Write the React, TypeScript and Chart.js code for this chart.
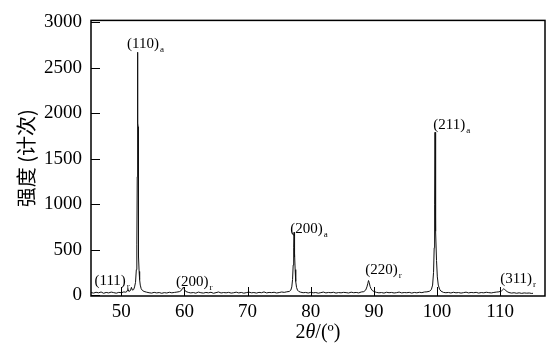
import { useEffect, useRef } from "react";
import { Chart, registerables } from "chart.js";

Chart.register(...registerables);

const angles = [
  45.2, 45.6, 46.0, 46.4, 46.8, 47.2, 47.6, 48.0, 48.4, 48.8, 49.2, 49.6, 50.0, 50.4,
  50.7, 50.9, 51.05, 51.2, 51.45, 51.6, 51.75, 51.95, 52.1, 52.25, 52.38, 52.46, 52.52, 52.56,
  52.59, 52.62, 52.66, 52.7, 52.75, 52.82, 52.9, 53.0, 53.15, 53.35, 53.6,
  54.0, 54.4, 54.8, 55.2, 55.6, 56.0, 56.4, 56.8, 57.2, 57.6, 58.0, 58.4, 58.8, 59.2,
  59.5, 59.7, 59.85, 60.0, 60.2,
  60.6, 61.0, 61.4, 61.8, 62.2, 62.6, 63.0, 63.4, 63.8, 64.2, 64.6, 65.0, 65.4, 65.8, 66.2,
  66.6, 67.0, 67.4, 67.8, 68.2, 68.6, 69.0, 69.4, 69.8, 70.2, 70.6, 71.0, 71.4, 71.8, 72.2,
  72.6, 73.0, 73.4, 73.8, 74.2, 74.6, 75.0, 75.4, 75.8, 76.2, 76.6,
  76.85, 77.0, 77.12, 77.22, 77.3, 77.36, 77.41, 77.46, 77.53, 77.62, 77.75, 77.9, 78.1,
  78.4, 78.8, 79.2, 79.6, 80.0, 80.4, 80.8, 81.2, 81.6, 82.0, 82.4, 82.8, 83.2, 83.6, 84.0,
  84.4, 84.8, 85.2, 85.6, 86.0, 86.4, 86.8, 87.2, 87.6, 88.0, 88.4,
  88.7, 88.9, 89.05, 89.15, 89.25, 89.4, 89.55, 89.75, 90.0,
  90.4, 90.8, 91.2, 91.6, 92.0, 92.4, 92.8, 93.2, 93.6, 94.0, 94.4, 94.8, 95.2, 95.6, 96.0,
  96.4, 96.8, 97.2, 97.6, 98.0, 98.4, 98.8,
  99.1, 99.3, 99.45, 99.55, 99.62, 99.68, 99.72, 99.77, 99.83, 99.92, 100.05, 100.2, 100.4, 100.6,
  101.0, 101.4, 101.8, 102.2, 102.6, 103.0, 103.4, 103.8, 104.2, 104.6, 105.0, 105.4, 105.8,
  106.2, 106.6, 107.0, 107.4, 107.8, 108.2, 108.6, 109.0, 109.4, 109.8,
  110.2, 110.4, 110.55, 110.7, 110.9, 111.1,
  111.4, 111.8, 112.2, 112.6, 113.0, 113.4, 113.8, 114.2, 114.6, 115.0, 115.2,
];
const intensities = [
  28, 22, 31, 25, 34, 20, 29, 24, 33, 27, 21, 30, 26, 35,
  32, 40, 65, 40, 50, 85, 55, 60, 90, 140, 280, 560, 1300, 2670,
  1500, 1890, 1850, 780, 420, 260, 170, 110, 70, 50, 40,
  32, 26, 22, 30, 24, 28, 20, 27, 23, 31, 25, 29, 33, 38,
  50, 75, 88, 60, 40,
  30, 24, 28, 21, 33, 26, 22, 29, 25, 31, 20, 27, 34, 23, 28,
  25, 30, 22, 26, 32, 24, 29, 21, 27, 33, 25, 28, 22, 30, 26,
  35, 24, 29, 27, 31, 23, 28, 34, 30, 36, 40,
  55, 90, 170, 330, 520, 690, 420, 460, 280, 150, 85, 55, 40,
  32, 26, 29, 23, 30, 25, 28, 21, 27, 33, 24, 29, 26, 31, 22,
  28, 25, 30, 27, 23, 32, 26, 29, 24, 34, 38,
  55, 90, 130, 160, 140, 95, 70, 50, 40,
  30, 25, 28, 22, 31, 26, 29, 23, 27, 33, 24, 28, 26, 30, 22,
  29, 25, 31, 27, 34, 36, 42,
  60, 110, 250, 520, 1000, 1790, 1060, 1080, 700, 380, 200, 110, 65, 45,
  30, 26, 29, 23, 31, 25, 28, 22, 27, 32, 24, 29, 26,
  30, 22, 28, 25, 31, 27, 24, 29, 33, 36,
  45, 58, 68, 62, 50, 38,
  28, 22, 26, 20, 25, 19, 24, 21, 23, 18, 20,
];

const xTicks = [50, 60, 70, 80, 90, 100, 110];
const yTicks = [0, 500, 1000, 1500, 2000, 2500, 3000];

// peak annotations: Miller index, phase subscript, anchor (2θ, counts)
const peakLabels = ["(111)", "(110)", "(200)", "(200)", "(220)", "(211)", "(311)"];
const peakPhases = ["r", "a", "r", "a", "r", "a", "r"];
const labelAngles = [45.75, 50.9, 58.67, 76.74, 88.62, 99.4, 110.0];
const labelCounts = [112, 2717, 102, 686, 229, 1824, 134];

// x-axis title pieces: plain, italic, plain
const xTitleParts = ["2", "θ", "/(º)"];

const SERIF = '"Liberation Serif", "Times New Roman", serif';

const decor = {
  id: "decor",
  afterDatasetsDraw(chart: any) {
    const { ctx, chartArea: a, scales } = chart;
    const x = scales.x;
    const y = scales.y;
    ctx.save();
    ctx.strokeStyle = "#000";
    ctx.lineWidth = 1;
    ctx.beginPath();
    for (const v of xTicks) {
      const px = Math.round(x.getPixelForValue(v)) + 0.5;
      ctx.moveTo(px, a.bottom);
      ctx.lineTo(px, a.bottom - 9);
    }
    for (const v of yTicks) {
      const py = Math.round(y.getPixelForValue(v)) + 0.5;
      ctx.moveTo(a.left, py);
      ctx.lineTo(a.left + 9, py);
    }
    ctx.stroke();
    ctx.lineWidth = 1.5;
    ctx.strokeRect(a.left, a.top, a.right - a.left, a.bottom - a.top);

    ctx.fillStyle = "#000";
    ctx.textAlign = "left";
    ctx.textBaseline = "alphabetic";
    peakLabels.forEach((t, i) => {
      const px = x.getPixelForValue(labelAngles[i]);
      const py = y.getPixelForValue(labelCounts[i]);
      ctx.font = `15px ${SERIF}`;
      ctx.fillText(t, px, py);
      const w = ctx.measureText(t).width;
      ctx.font = `9px ${SERIF}`;
      ctx.fillText(peakPhases[i], px + w + 1, py + 4);
    });

    // x-axis title with italic theta
    const fonts = [`20px ${SERIF}`, `italic 20px ${SERIF}`, `20px ${SERIF}`];
    const widths = xTitleParts.map((p, i) => {
      ctx.font = fonts[i];
      return ctx.measureText(p).width;
    });
    const total = widths.reduce((s, w) => s + w, 0);
    let cx = (a.left + a.right) / 2 - total / 2;
    const by = a.bottom + 42;
    xTitleParts.forEach((p, i) => {
      ctx.font = fonts[i];
      ctx.fillText(p, cx, by);
      cx += widths[i];
    });
    ctx.restore();
  },
};

export default function App() {
  const ref = useRef<HTMLCanvasElement>(null);
  useEffect(() => {
    document.body.style.margin = "0";
    const canvas = ref.current;
    if (!canvas) return;
    const chart = new Chart(canvas, {
      type: "scatter",
      data: {
        datasets: [
          {
            data: angles.map((a, i) => ({ x: a, y: intensities[i] })),
            showLine: true,
            borderColor: "#111",
            borderWidth: 1,
            pointRadius: 0,
            tension: 0,
          },
        ],
      },
      options: {
        animation: false,
        responsive: false,
        events: [],
        layout: { padding: { top: 11, right: 15, left: 0, bottom: 0 } },
        plugins: { legend: { display: false }, tooltip: { enabled: false } },
        scales: {
          x: {
            type: "linear",
            min: 45.2,
            max: 117.1,
            afterBuildTicks: (s: any) => {
              s.ticks = xTicks.map((v) => ({ value: v }));
            },
            afterFit: (s: any) => {
              s.height = 52;
            },
            grid: { display: false, drawTicks: false },
            border: { display: false },
            ticks: {
              color: "#000",
              padding: 5,
              maxRotation: 0,
              autoSkip: false,
              font: { family: SERIF, size: 19 },
              callback: (v: any) => String(v),
            },
            title: { display: false },
          },
          y: {
            type: "linear",
            min: -10,
            max: 3020,
            afterBuildTicks: (s: any) => {
              s.ticks = yTicks.map((v) => ({ value: v }));
            },
            afterFit: (s: any) => {
              s.width = 91;
            },
            grid: { display: false, drawTicks: false },
            border: { display: false },
            ticks: {
              color: "#000",
              padding: 9,
              autoSkip: false,
              font: { family: SERIF, size: 19 },
              callback: (v: any) => String(v),
            },
            title: {
              display: true,
              text: "强度 (计次)",
              color: "#000",
              padding: { top: 14, bottom: 0 },
              font: { family: '"Noto Sans CJK SC", ' + SERIF, size: 20 },
            },
          },
        },
      },
      plugins: [decor],
    });
    return () => chart.destroy();
  }, []);
  return (
    <div style={{ width: 560, height: 348 }}>
      <canvas ref={ref} width={560} height={348} />
    </div>
  );
}
